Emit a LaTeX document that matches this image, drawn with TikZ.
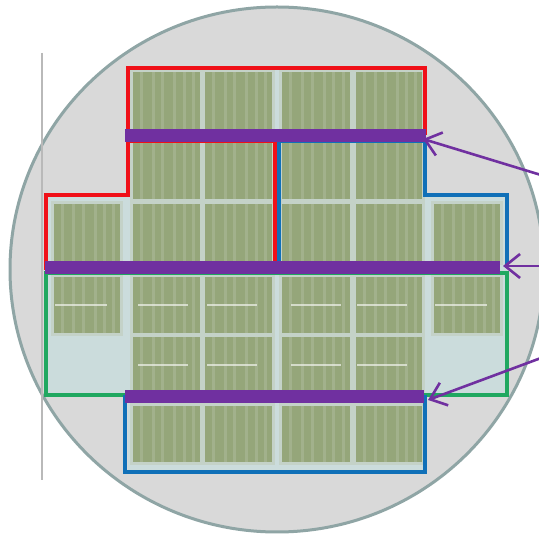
\documentclass[tikz,border=0pt]{standalone}
\usetikzlibrary{arrows.meta}
\definecolor{wafer}{HTML}{D9D9D9}
\definecolor{waferedge}{HTML}{8FA5A5}
\definecolor{die}{HTML}{CBDCDC}
\definecolor{panelgreen}{HTML}{95A67A}
\definecolor{panelstripe}{HTML}{A2B18C}
\definecolor{panelframe}{HTML}{C4D2C8}
\definecolor{purplebar}{HTML}{7030A0}
\definecolor{redline}{HTML}{F01018}
\definecolor{blueline}{HTML}{1070B8}
\definecolor{greenline}{HTML}{20A860}
\tikzset{
  x=1pt,y=-1pt,
  outline/.style={line width=3.4pt,line join=miter},
  bar/.style={fill=purplebar,draw=none},
  pointer/.style={draw=purplebar,line width=2.6pt,-{Straight Barb[length=15pt,width=24pt,line width=2.6pt]}},
  smear/.style={draw=white!85!panelgreen,line width=1.6pt,opacity=.7},
}
% x0,y0,x1,y1
\newcommand{\panelbox}[4]{%
  \fill[panelframe] (#1-3,#2-3) rectangle (#3+3,#4+3);
  \fill[panelgreen] (#1,#2) rectangle (#3,#4);
  \foreach \f in {.1,.28,.42,.6,.74,.88}{
    \fill[panelstripe] ({#1+\f*(#3-#1)},#2) rectangle ({#1+\f*(#3-#1)+3},#4);
  }
}
\begin{document}
\begin{tikzpicture}
\useasboundingbox (0,0) rectangle (539,534);
\fill[white] (0,0) rectangle (539,534);
\begin{scope}
\clip (0,0) rectangle (539,534);
\draw[waferedge,fill=wafer,line width=3pt] (277,269.5) ellipse [x radius=267,y radius=262.5];
\end{scope}
\draw[gray!55,line width=1.2pt] (42,53) -- (42,480);
% die background
\fill[die] (128,68) rectangle (425,472);
\fill[die] (46,195) rectangle (128,395);
\fill[die] (425,195) rectangle (507,395);
% panels
\foreach \xa/\xb in {133/200,205/272,282/350,356/422}{
  \foreach \ya/\yb in {72/130,142/199,204/262,277/333,337/392,406/462}{
    \panelbox{\xa}{\ya}{\xb}{\yb}
  }
}
\foreach \xa/\xb in {54/120,434/500}{
  \foreach \ya/\yb in {204/262,277/333}{
    \panelbox{\xa}{\ya}{\xb}{\yb}
  }
}
% illegible white marks on panels
\foreach \cx in {163,232,316,382}{
  \foreach \cy in {305,365}{
    \draw[smear] (\cx-25,\cy) -- (\cx+25,\cy);
  }
}
\foreach \cx in {82,462}{
  \draw[smear] (\cx-27,305) -- (\cx+25,305);
}
% outlines
\draw[greenline,outline] (46,273) -- (507,273) -- (507,395) -- (46,395) -- cycle;
\draw[blueline,outline] (279,135) -- (279,267);
\draw[blueline,outline] (279,141) -- (425,141) -- (425,195) -- (507,195) -- (507,267);
\draw[blueline,outline] (125,395) -- (125,472) -- (425,472) -- (425,395);
\draw[redline,outline] (46,270) -- (46,195) -- (128,195) -- (128,68) -- (425,68) -- (425,135);
\draw[redline,outline] (128,141) -- (275,141) -- (275,267);
% bars
\fill[bar] (125,129) rectangle (426,142);
\fill[bar] (45,261) rectangle (500,274);
\fill[bar] (125,390) rectangle (424,403);
% arrows
\coordinate (atop) at (541,175);
\coordinate (amid) at (541,266);
\coordinate (abot) at (541,358);
\coordinate (ttop) at (423,139);
\coordinate (tmid) at (503,266);
\coordinate (tbot) at (428,400);
\draw[pointer] (atop) -- (ttop);
\draw[pointer] (amid) -- (tmid);
\draw[pointer] (abot) -- (tbot);
\end{tikzpicture}
\end{document}
